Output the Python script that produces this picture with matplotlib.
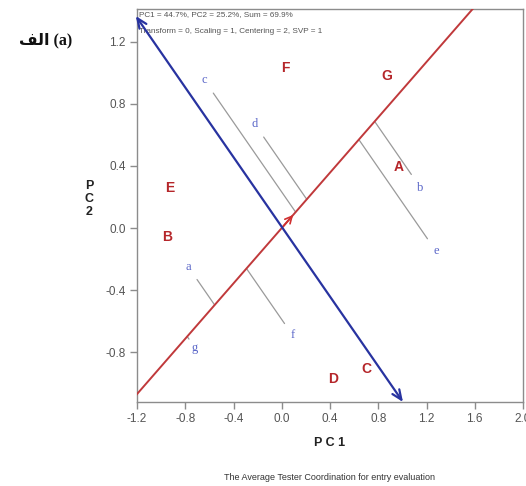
import matplotlib
matplotlib.use("Agg")
import matplotlib.pyplot as plt
import numpy as np

# ---- data ----
entries = ["F", "G", "A", "E", "B", "D", "C"]
entry_x = [0.03, 0.87, 0.97, -0.93, -0.95, 0.43, 0.70]
entry_y = [1.03, 0.98, 0.39, 0.26, -0.06, -0.97, -0.91]

testers = ["c", "d", "b", "e", "a", "f", "g"]
tester_x = [-0.64, -0.225, 1.15, 1.28, -0.775, 0.09, -0.72]
tester_y = [0.95, 0.67, 0.26, -0.15, -0.25, -0.69, -0.77]

avg_env = (0.11, 0.098)          # average tester coordinate (arrow head)
blue_start = (-1.21, 1.365)       # ATC ordinate arrow ends
blue_end = (1.005, -1.12)

x_ticks = [-1.2, -0.8, -0.4, 0.0, 0.4, 0.8, 1.2, 1.6, 2.0]
y_ticks = [-0.8, -0.4, 0.0, 0.4, 0.8, 1.2]
x_tick_labels = ["-1.2", "-0.8", "-0.4", "0.0", "0.4", "0.8", "1.2", "1.6", "2.0"]
y_tick_labels = ["-0.8", "-0.4", "0.0", "0.4", "0.8", "1.2"]

header1 = "PC1 = 44.7%, PC2 = 25.2%, Sum = 69.9%"
header2 = "Transform = 0, Scaling = 1, Centering = 2, SVP = 1"
caption = "The Average Tester Coordination for entry evaluation"
# "الف (a)" written in visual order with Arabic presentation forms
panel_label = "\uFED2\uFEDF\uFE8D (a)"

plt.rcParams['font.family'] = ['Liberation Sans', 'DejaVu Sans']

fig = plt.figure(figsize=(5.26, 4.86), dpi=100)
ax = fig.add_axes([137/526, 1 - 402/486, (523-137)/526, (402-9)/486])
ax.set_xlim(-1.2, 2.0)
ax.set_ylim(-1.12, 1.41)

gray = "#8c8c8c"
for s in ax.spines.values():
    s.set_color(gray)
    s.set_linewidth(1.0)

ax.set_xticks(x_ticks)
ax.set_xticklabels(x_tick_labels)
ax.set_yticks(y_ticks)
ax.set_yticklabels(y_tick_labels)
ax.tick_params(direction='out', length=5, width=1.0, color=gray,
               labelsize=8.5, labelcolor="#555555", pad=3)

# red ATC abscissa through origin and average environment
d = np.array(avg_env) / np.hypot(*avg_env)
t = np.array([-3.0, 3.0])
ax.plot(t * d[0], t * d[1], color="#c0393b", lw=1.4, zorder=3)
ax.annotate("", xy=avg_env, xytext=(0, 0),
            arrowprops=dict(arrowstyle="->,head_length=0.5,head_width=0.25",
                            color="#d03030", lw=1.2), zorder=4)

# blue ATC ordinate, double arrow
ax.annotate("", xy=blue_end, xytext=blue_start,
            arrowprops=dict(arrowstyle="<->,head_length=0.7,head_width=0.3",
                            color="#2833a0", lw=1.6, shrinkA=0, shrinkB=0),
            zorder=4)

# tester projection lines and labels
for name, x, y in zip(testers, tester_x, tester_y):
    p = (x * d[0] + y * d[1]) * d
    ax.annotate(name, xy=(p[0], p[1]), xytext=(x, y),
                ha='center', va='center', fontsize=9,
                family=['Liberation Serif', 'DejaVu Serif'], color="#5a66c8",
                arrowprops=dict(arrowstyle='-', color="#9a9a9a", lw=0.9,
                                shrinkA=4, shrinkB=0), zorder=2)

# entries
for name, x, y in zip(entries, entry_x, entry_y):
    ax.text(x, y, name, ha='center', va='center', fontsize=10,
            fontweight='bold', color="#b5262a", zorder=5)

# header texts
ax.text(0.005, 0.985, header1, transform=ax.transAxes, fontsize=5.9,
        color="#555555", ha='left', va='center')
ax.text(0.005, 0.944, header2, transform=ax.transAxes, fontsize=5.9,
        color="#555555", ha='left', va='center')

# axis labels
fig.text(330/526, 1 - 443/486, "P C 1", ha='center', va='center',
         fontsize=9, fontweight='bold', color="#222222")
fig.text(89/526, 1 - 199/486, "P\nC\n2", ha='center', va='center',
         fontsize=9, fontweight='bold', color="#222222", linespacing=1.1)
fig.text(330/526, 1 - 477/486, caption, ha='center', va='center',
         fontsize=6.5, color="#333333")

fig.text(46/526, 1 - 40/486, panel_label, ha='center', va='center',
         fontsize=11.5, fontweight='bold',
         family=['Liberation Serif', 'DejaVu Sans'], color="#111111")

fig.savefig("out.png", dpi=100)
